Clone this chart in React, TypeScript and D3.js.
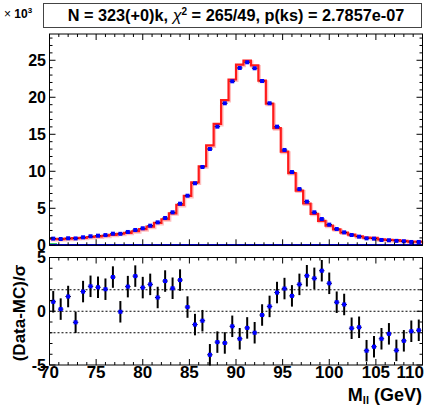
import React from 'react';
import * as d3 from 'd3';

const xMin = 70;
const xMax = 110;
// data (x 10^3 entries), 50 bins of 0.8 GeV
const dataK = [
  0.9, 0.85, 0.95, 0.93, 1.08, 1.22, 1.3, 1.38, 1.57, 1.55,
  1.8, 2.07, 2.3, 2.65, 3.1, 3.69, 4.46, 5.62, 6.7, 8.38,
  10.58, 13.01, 16.03, 19.19, 22.16, 23.96, 24.73, 23.92, 22.2, 19.19,
  16.03, 12.88, 9.9, 7.6, 5.9, 4.46, 3.55, 2.79, 2.2, 1.75,
  1.39, 1.17, 0.94, 0.9, 0.72, 0.68, 0.6, 0.55, 0.45, 0.45,
];
const mcK = [
  0.86, 0.84, 0.9, 0.97, 1.01, 1.12, 1.2, 1.29, 1.42, 1.56,
  1.69, 1.9, 2.18, 2.51, 3.03, 3.52, 4.32, 5.45, 6.67, 8.5,
  10.68, 13.5, 16.4, 19.62, 22.4, 24.4, 24.95, 24.3, 22.25, 19.13,
  15.83, 12.65, 9.76, 7.4, 5.65, 4.25, 3.31, 2.65, 2.16, 1.72,
  1.45, 1.22, 1.05, 0.99, 0.79, 0.73, 0.69, 0.61, 0.49, 0.49,
];
const pull = [
  0.88, 0.2, 1.37, -1.03, 1.83, 2.32, 2.23, 2.05, 3.18, -0.05,
  2.29, 3.27, 2.2, 2.5, 1.28, 2.81, 2.14, 2.9, 0.39, -1.24,
  -0.88, -4.05, -2.87, -2.95, -1.4, -2.56, -1.55, -2.0, -0.35, 0.45,
  1.74, 2.11, 1.43, 2.5, 3.3, 3.06, 3.77, 2.6, 0.84, 0.63,
  -1.58, -1.49, -3.67, -3.3, -2.56, -2.1, -3.64, -2.75, -1.86, -1.77,
];
const bkgGreen = [0.2, 0.03];
const bkgBlue = [0.05];
const xTicks = [70, 75, 80, 85, 90, 95, 100, 105, 110];
const yTopTicks = [0, 5, 10, 15, 20, 25];
const yBotTicks = [-5, 0, 5];
const pullLines = [-2, 0, 2];

const FONT = '"Liberation Sans", Arial, Helvetica, sans-serif';

export default function App() {
  const x = d3.scaleLinear().domain([xMin, xMax]).range([49.5, 422.5]);
  const yT = d3.scaleLinear().domain([0, 28.55]).range([245.3, 34]);
  const yB = d3.scaleLinear().domain([-5, 5]).range([365, 257.5]);
  const nb = dataK.length;
  const bw = (xMax - xMin) / nb;
  const edges = d3.range(nb + 1).map((i) => xMin + i * bw);
  const centers = d3.range(nb).map((i) => xMin + (i + 0.5) * bw);

  const step = d3
    .line<[number, number]>()
    .x((d) => x(d[0]))
    .y((d) => yT(d[1]))
    .curve(d3.curveStepAfter);
  const stepPts = (vals: number[]): [number, number][] => {
    const pts: [number, number][] = vals.map((v, i) => [edges[i], v]);
    pts.push([edges[vals.length], vals[vals.length - 1]]);
    return pts;
  };
  const mcPath = step(stepPts(mcK)) || '';

  const minor = d3.range(xMin, xMax + 0.001, 1);
  const topMinorY = d3.range(0, 28.5, 1);
  const botMinorY = d3.range(-5, 5.001, 1);

  const topL = 49.5, topR = 422.5, topTop = 34, topBot = 245.3;
  const botTop = 257.5, botBot = 365;

  return (
    <svg width={435} height={405} style={{ position: 'absolute', left: 0, top: 0, background: '#fff' }}
      fontFamily={FONT}>
      <rect x={0} y={0} width={435} height={405} fill="#fff" />
      {/* title */}
      <rect x={43.5} y={3.5} width={378} height={24} fill="#fff" stroke="#444" strokeWidth={1} />
      <text x={236} y={21} textAnchor="middle" fontWeight="bold" fontSize={16.3}>
        N = 323(+0)k, <tspan fontStyle="italic" fontWeight="normal">χ</tspan>
        <tspan fontSize={10} dy={-6}>2</tspan>
        <tspan dy={6}> = 265/49, p(ks) = 2.7857e-07</tspan>
      </text>
      <text x={4} y={18} fontSize={12}>
        × <tspan fontWeight="bold">10</tspan>
        <tspan fontSize={8} dy={-5} fontWeight="bold">3</tspan>
      </text>

      {/* top panel */}
      <g>
        <path d={mcPath} fill="none" stroke="#ffc0c0" strokeWidth={3} transform="translate(1,1)" />
        <path d={mcPath} fill="none" stroke="#ff1a1a" strokeWidth={2.2} />
        {bkgGreen.map((v, i) => (
          <line key={'g' + i} x1={x(edges[i])} x2={x(edges[i + 1])} y1={yT(v)} y2={yT(v)} stroke="#33cc66" strokeWidth={1.5} />
        ))}
        <line x1={topL} x2={topR} y1={yT(bkgBlue[0])} y2={yT(bkgBlue[0])} stroke="#0000dd" strokeWidth={2} />
        {dataK.map((v, i) => (
          <g key={'d' + i}>
            <line x1={x(edges[i]) + 1} x2={x(edges[i + 1]) - 1} y1={yT(v)} y2={yT(v)} stroke="#000" strokeWidth={1} />
            <rect x={x(centers[i]) - 2} y={yT(v) - 2} width={4} height={4} fill="#0000ff" />
          </g>
        ))}
        <rect x={topL} y={topTop} width={topR - topL} height={topBot - topTop} fill="none" stroke="#000" strokeWidth={1} />
        {minor.map((t) => {
          const major = t % 5 === 0;
          const l = major ? 6 : 3;
          return (
            <g key={'tx' + t}>
              <line x1={x(t)} x2={x(t)} y1={topTop} y2={topTop + l} stroke="#000" />
              <line x1={x(t)} x2={x(t)} y1={topBot} y2={topBot - l} stroke="#000" />
            </g>
          );
        })}
        {topMinorY.map((t) => {
          const major = t % 5 === 0;
          const l = major ? 6 : 3;
          return (
            <g key={'ty' + t}>
              <line x1={topL} x2={topL + l} y1={yT(t)} y2={yT(t)} stroke="#000" />
              <line x1={topR} x2={topR - l} y1={yT(t)} y2={yT(t)} stroke="#000" />
            </g>
          );
        })}
        {yTopTicks.map((t) => (
          <text key={'yl' + t} x={46} y={yT(t)} dy="0.36em" textAnchor="end" fontWeight="bold" fontSize={16}>
            {t}
          </text>
        ))}
      </g>

      {/* bottom panel */}
      <g>
        {pullLines.map((p) => (
          <line key={'pl' + p} x1={topL} x2={topR} y1={yB(p)} y2={yB(p)} stroke="#000" strokeWidth={1} strokeDasharray="2,2" />
        ))}
        {pull.map((p, i) => (
          <g key={'p' + i}>
            <line x1={x(centers[i])} x2={x(centers[i])} y1={yB(p - 1)} y2={yB(p + 1)} stroke="#000" strokeWidth={2} />
            <line x1={x(edges[i]) + 1} x2={x(edges[i + 1]) - 1} y1={yB(p)} y2={yB(p)} stroke="#000" strokeWidth={1} />
            <rect x={x(centers[i]) - 2} y={yB(p) - 2} width={4} height={4} fill="#0000ff" />
          </g>
        ))}
        <rect x={topL} y={botTop} width={topR - topL} height={botBot - botTop} fill="none" stroke="#000" strokeWidth={1} />
        {minor.map((t) => {
          const major = t % 5 === 0;
          const l = major ? 6 : 3;
          return (
            <g key={'bx' + t}>
              <line x1={x(t)} x2={x(t)} y1={botTop} y2={botTop + l} stroke="#000" />
              <line x1={x(t)} x2={x(t)} y1={botBot} y2={botBot - l} stroke="#000" />
            </g>
          );
        })}
        {botMinorY.map((t) => {
          const major = t % 5 === 0;
          const l = major ? 6 : 3;
          return (
            <g key={'by' + t}>
              <line x1={topL} x2={topL + l} y1={yB(t)} y2={yB(t)} stroke="#000" />
              <line x1={topR} x2={topR - l} y1={yB(t)} y2={yB(t)} stroke="#000" />
            </g>
          );
        })}
        {yBotTicks.map((t) => (
          <text key={'bl' + t} x={46} y={yB(t)} dy="0.36em" textAnchor="end" fontWeight="bold" fontSize={16}>
            {t}
          </text>
        ))}
        {xTicks.map((t, i) => {
          const last = i === xTicks.length - 1;
          return (
            <text key={'xl' + t} x={last ? 424 : x(t)} y={378} textAnchor={last ? 'end' : 'middle'} fontWeight="bold" fontSize={17}>
              {t}
            </text>
          );
        })}
        <text transform={`translate(25,313) rotate(-90)`} textAnchor="middle" fontWeight="bold" fontSize={17}>
          (Data-MC)/σ
        </text>
        <text x={422} y={401} textAnchor="end" fontWeight="bold" fontSize={18}>
          M<tspan fontSize={11} dy={3}>ll</tspan>
          <tspan dy={-3}> (GeV)</tspan>
        </text>
      </g>
    </svg>
  );
}
